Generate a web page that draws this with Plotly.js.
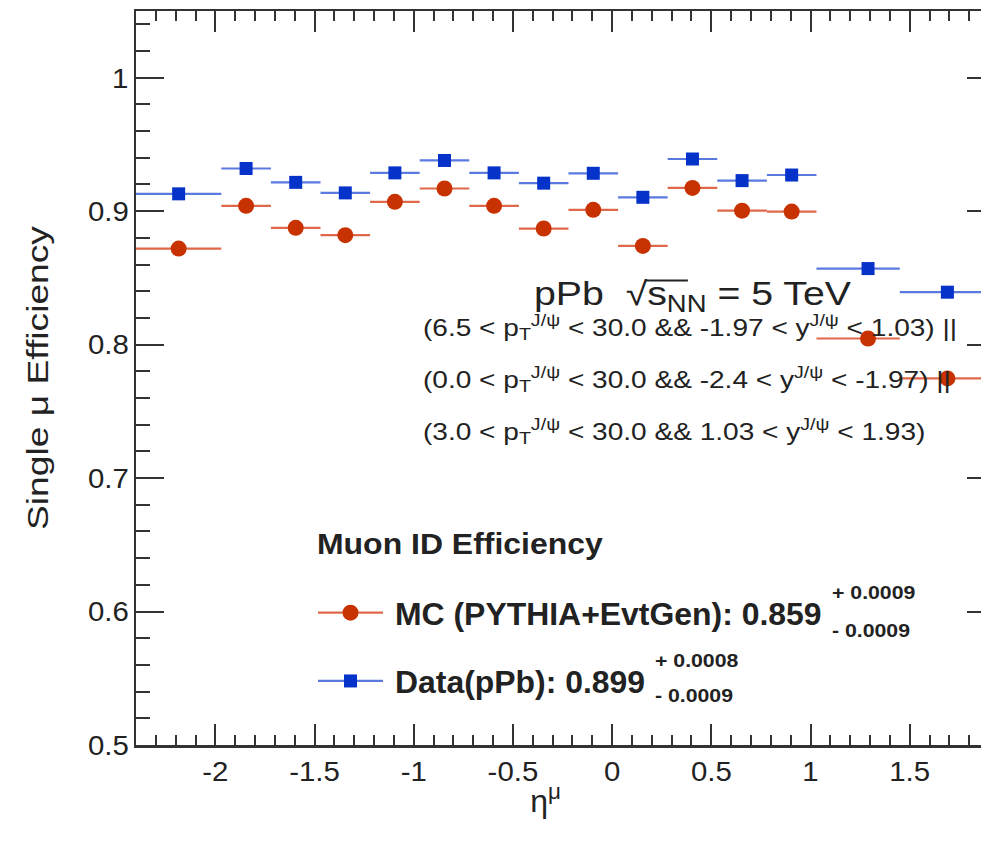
<!DOCTYPE html>
<html>
<head>
<meta charset="utf-8">
<script src="https://cdn.plot.ly/plotly-3.0.1.min.js"></script>
<style>
  html, body { margin: 0; padding: 0; overflow: hidden; background: #fff; }
  #chart { width: 1010px; height: 844px; }
</style>
</head>
<body>
<div id="chart"></div>
<script>
// ---- data ----
const etaLow   = [-2.4, -1.97, -1.72, -1.47, -1.22, -0.97, -0.72, -0.47, -0.22, 0.03, 0.28, 0.53, 0.78, 1.03, 1.45];
const etaHigh  = [-1.97, -1.72, -1.47, -1.22, -0.97, -0.72, -0.47, -0.22, 0.03, 0.28, 0.53, 0.78, 1.03, 1.45, 1.93];
const etaPoint = [-2.185, -1.845, -1.595, -1.345, -1.095, -0.845, -0.595, -0.345, -0.095, 0.155, 0.405, 0.655, 0.905, 1.29, 1.69];
const effMC    = [0.872, 0.904, 0.8875, 0.882, 0.907, 0.917, 0.904, 0.887, 0.901, 0.874, 0.9174, 0.9004, 0.8997, 0.8046, 0.7747];
const effData  = [0.913, 0.932, 0.9216, 0.9137, 0.9287, 0.938, 0.9287, 0.921, 0.9284, 0.9104, 0.9391, 0.9229, 0.9271, 0.857, 0.8393];

const seriesNames = ['MC (PYTHIA+EvtGen)', 'Data(pPb)'];
const avgEff      = ['0.859', '0.899'];
const avgErrUp    = ['0.0009', '0.0008'];
const avgErrDown  = ['0.0009', '0.0009'];

const xTickVals = [-2, -1.5, -1, -0.5, 0, 0.5, 1, 1.5];
const xTickText = ['-2', '-1.5', '-1', '-0.5', '0', '0.5', '1', '1.5'];
const yTickVals = [0.5, 0.6, 0.7, 0.8, 0.9, 1];
const yTickText = ['0.5', '0.6', '0.7', '0.8', '0.9', '1'];

const legendTitle = 'Muon ID Efficiency';
const systemText = 'pPb  √s<sub>NN</sub> = 5 TeV';
const cutLines = [
  '(6.5 &lt; p<sub>T</sub><sup>J/ψ</sup> &lt; 30.0 &amp;&amp; -1.97 &lt; y<sup>J/ψ</sup> &lt; 1.03) ||',
  '(0.0 &lt; p<sub>T</sub><sup>J/ψ</sup> &lt; 30.0 &amp;&amp; -2.4 &lt; y<sup>J/ψ</sup> &lt; -1.97) ||',
  '(3.0 &lt; p<sub>T</sub><sup>J/ψ</sup> &lt; 30.0 &amp;&amp; 1.03 &lt; y<sup>J/ψ</sup> &lt; 1.93)'
];

// ---- styling ----
const FONT = 'Liberation Sans, Arial, Helvetica, sans-serif';
const INK = '#222222';
const redMarker = '#c83200', redBar = '#e0684a';
const blueMarker = '#0532c8', blueBar = '#5a7ae0';
const SYS_SIZE = 33;

const errPlus  = etaHigh.map((h, i) => h - etaPoint[i]);
const errMinus = etaLow.map((l, i) => etaPoint[i] - l);

const traces = [
  {
    x: etaPoint, y: effMC, type: 'scatter', mode: 'markers', showlegend: false,
    marker: { symbol: 'circle', size: 16, color: redMarker },
    error_x: { type: 'data', symmetric: false, array: errPlus, arrayminus: errMinus, color: redBar, thickness: 2.2, width: 0 }
  },
  {
    x: etaPoint, y: effData, type: 'scatter', mode: 'markers', showlegend: false,
    marker: { symbol: 'square', size: 13, color: blueMarker },
    error_x: { type: 'data', symmetric: false, array: errPlus, arrayminus: errMinus, color: blueBar, thickness: 2.2, width: 0 }
  },
  // legend entries
  {
    x: [null], y: [null], type: 'scatter', mode: 'lines+markers', legendgroup: 'mc',
    name: '<b>' + seriesNames[0] + ': ' + avgEff[0] + '</b>',
    line: { color: redBar, width: 2.2 }, marker: { symbol: 'circle', size: 16, color: redMarker }
  },
  {
    x: [null], y: [null], type: 'scatter', mode: 'lines+markers', legendgroup: 'data',
    name: '<b>' + seriesNames[1] + ': ' + avgEff[1] + '</b>',
    line: { color: blueBar, width: 2.2 }, marker: { symbol: 'square', size: 13, color: blueMarker }
  }
];

const xa = 136, xb = 995, ya = 11, yb = 745; // plot-area pixels
const px = p => (p - xa) / (xb - xa);
const py = p => (yb - p) / (yb - ya);

function note(text, x, y, size, extra) {
  return Object.assign({
    xref: 'paper', yref: 'paper', x: px(x), y: py(y), xanchor: 'left', yanchor: 'middle',
    showarrow: false, align: 'left', text: text, font: { family: FONT, size: size, color: INK }
  }, extra || {});
}

const annotations = [];
const annStretch = [];
annotations.push(note(systemText, 532, 296, SYS_SIZE)); annStretch.push(1.19);
cutLines.forEach((t, i) => { annotations.push(note(t, 421, [327, 379, 431][i], 23)); annStretch.push(1.22); });
annotations.push(note('<b>' + legendTitle + '</b>', 315, 543, 30)); annStretch.push(1.065);
avgErrUp.forEach((u, i) => {
  annotations.push(note('<b>+ ' + u + '</b>', [830, 653][i], [592, 660][i], 19)); annStretch.push(1.12);
  annotations.push(note('<b>- ' + avgErrDown[i] + '</b>', [830, 653][i], [630, 695][i], 19)); annStretch.push(1.12);
});

const layout = {
  width: 1010, height: 844,
  margin: { l: xa, r: 1010 - xb, t: ya, b: 844 - yb, pad: 0 },
  paper_bgcolor: '#ffffff', plot_bgcolor: '#ffffff',
  font: { family: FONT, color: INK },
  showlegend: true,
  legend: {
    x: px(313), y: py(586), xanchor: 'left', yanchor: 'top',
    bgcolor: 'rgba(0,0,0,0)', borderwidth: 0,
    itemwidth: 65, tracegroupgap: 25,
    font: { family: FONT, size: 31, color: INK }
  },
  xaxis: {
    range: [-2.4, 1.93], showgrid: false, zeroline: false,
    showline: true, linecolor: '#333', linewidth: 2.5, mirror: 'allticks',
    ticks: 'inside', ticklen: 21, tickwidth: 2, tickcolor: '#333',
    tickvals: xTickVals, ticktext: xTickText,
    minor: { dtick: 0.1, tick0: 0, ticks: 'inside', ticklen: 10, tickwidth: 2, tickcolor: '#333', showgrid: false },
    tickfont: { family: FONT, size: 28, color: INK },
    title: { text: 'η<sup>μ</sup>', font: { family: FONT, size: 32, color: INK }, standoff: 4 }
  },
  yaxis: {
    range: [0.5, 1.05], showgrid: false, zeroline: false,
    showline: true, linecolor: '#333', linewidth: 2.5, mirror: 'allticks',
    ticks: 'inside', ticklen: 28, tickwidth: 2, tickcolor: '#333',
    tickvals: yTickVals, ticktext: yTickText,
    minor: { dtick: 0.02, tick0: 0.5, ticks: 'inside', ticklen: 14, tickwidth: 2, tickcolor: '#333', showgrid: false },
    tickfont: { family: FONT, size: 28, color: INK },
    title: { text: 'Single μ Efficiency', font: { family: FONT, size: 30, color: INK }, standoff: 32 }
  },
  annotations: annotations
};

// widen text horizontally (the reference font runs wider than Liberation Sans)
function stretchEl(el, sx, anchor, dx) {
  const b = el.getBBox();
  const ox = anchor === 'left' ? b.x : (anchor === 'right' ? b.x + b.width : b.x + b.width / 2);
  const t = el.getAttribute('transform') || '';
  el.setAttribute('transform', t + ' translate(' + (ox + (dx || 0)) + ',0) scale(' + sx + ',1) translate(' + (-ox) + ',0)');
}

// overline of the radical sign, attached to the rendered √ glyph
function addRadicalBar(t) {
  try {
    const tc = t.textContent;
    const i = tc.indexOf('√');
    if (i < 0) return;
    const g = t.parentNode;
    const m = t.getScreenCTM();
    const gm = g.getScreenCTM().inverse();
    const toG = (x, y) => new DOMPoint(x, y).matrixTransform(m).matrixTransform(gm);
    const eR = t.getExtentOfChar(i);
    const eN = t.getExtentOfChar(i + 3);
    const base = t.getStartPositionOfChar(i).y;
    const yBar = base - 0.74 * SYS_SIZE;
    const p0 = toG(eR.x + eR.width - 1, yBar);
    const p1 = toG(eN.x + eN.width + 1, yBar);
    const ln = document.createElementNS('http://www.w3.org/2000/svg', 'line');
    ln.setAttribute('x1', p0.x); ln.setAttribute('y1', p0.y);
    ln.setAttribute('x2', p1.x); ln.setAttribute('y2', p1.y);
    ln.setAttribute('stroke', INK); ln.setAttribute('stroke-width', '2');
    g.appendChild(ln);
  } catch (e) { console.log(e); }
}

Plotly.newPlot('chart', traces, layout, { displayModeBar: false, staticPlot: true }).then(gd => {
  gd.querySelectorAll('g.annotation').forEach(g => {
    const i = +g.getAttribute('data-index');
    const t = g.querySelector('text.annotation-text');
    if (t && annStretch[i]) stretchEl(t, annStretch[i], 'left');
    if (t && i === 0) addRadicalBar(t);
  });
  gd.querySelectorAll('g.legend [clip-path]').forEach(n => n.removeAttribute('clip-path'));
  gd.querySelectorAll('text.legendtext').forEach(t => stretchEl(t, 1.03, 'left', 7));
  const yt = gd.querySelector('text.ytitle');
  if (yt) stretchEl(yt, 1.24, 'center');
  const xt = gd.querySelector('text.xtitle');
  if (xt) stretchEl(xt, 1.0, 'center', -20);
  gd.querySelectorAll('g.xtick text, g.ytick text').forEach(t => stretchEl(t, 1.05, 'center'));
});
</script>
</body>
</html>
